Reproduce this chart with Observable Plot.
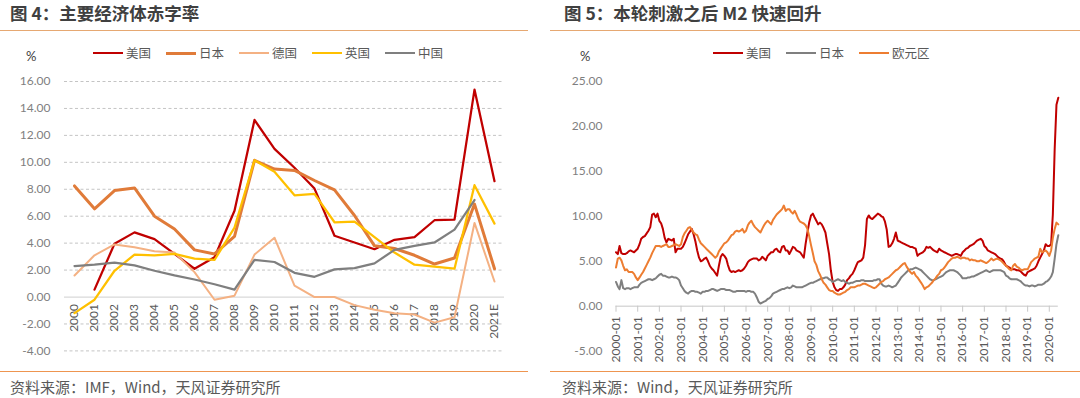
<!DOCTYPE html>
<html><head><meta charset="utf-8">
<script src="https://cdn.jsdelivr.net/npm/d3@7"></script>
<script src="https://cdn.jsdelivr.net/npm/@observablehq/plot@0.6"></script>
<style>
body{margin:0;width:1080px;height:398px;overflow:hidden;background:#fff;position:relative;font-family:Lato,"Noto Sans CJK SC",sans-serif}
.abs{position:absolute}
.title{font-family:"Noto Sans CJK SC",sans-serif;font-weight:bold;font-size:17.5px;line-height:20px;color:#404040;white-space:nowrap}
.toprule{height:0;border-top:1.5px solid #E6A872}
.botrule{height:0;border-top:1.5px solid #EE9550}
.src{font-family:"Noto Sans CJK SC",sans-serif;font-size:15px;line-height:20px;color:#595959;white-space:nowrap}
.legend{display:flex;align-items:center;font-family:"Noto Sans CJK SC",sans-serif;font-size:12.5px;line-height:16px;color:#595959;white-space:nowrap}
.legend .it{display:flex;align-items:center;margin-right:15px}
.legend .sw{width:30px;margin-right:3px}
.pct{font-size:13px;color:#404040;line-height:16px}
svg{overflow:visible}
</style></head><body>
<div class="abs title" style="left:10px;top:3px">图 4：主要经济体赤字率</div>
<div class="abs title" style="left:564px;top:3px">图 5：本轮刺激之后 M2 快速回升</div>
<div class="abs toprule" style="left:0;top:30px;width:528px"></div>
<div class="abs toprule" style="left:550px;top:30px;width:530px"></div>
<div class="abs pct" style="left:26px;top:48px">%</div>
<div class="abs pct" style="left:580px;top:48px">%</div>
<div id="legL" class="abs legend" style="left:93px;top:45px"></div>
<div id="legR" class="abs legend" style="left:713px;top:45px"></div>
<div id="plotL" class="abs" style="left:0;top:40px"></div>
<div id="plotR" class="abs" style="left:540px;top:40px"></div>
<div class="abs botrule" style="left:0;top:371px;width:528px"></div>
<div class="abs botrule" style="left:550px;top:371px;width:530px"></div>
<div class="abs src" style="left:10px;top:377px">资料来源：IMF，Wind，天风证券研究所</div>
<div class="abs src" style="left:562px;top:377px">资料来源：Wind，天风证券研究所</div>
<script>
// ---------- Figure 4: deficit ratios ----------
const years = ["2000","2001","2002","2003","2004","2005","2006","2007","2008","2009","2010",
  "2011","2012","2013","2014","2015","2016","2017","2018","2019","2020","2021E"];
const deficitUS = [null,0.55,3.95,4.8,4.3,3.2,2.1,2.95,6.4,13.15,11.0,9.6,8.05,4.55,4.05,3.55,4.25,4.45,5.7,5.75,15.4,8.6];
const deficitJP = [8.25,6.55,7.9,8.1,6.0,5.05,3.5,3.2,4.5,10.15,9.5,9.4,8.65,7.95,6.05,3.8,3.6,3.1,2.45,2.9,6.9,2.1];
const deficitDE = [1.6,3.1,3.9,3.7,3.4,3.3,1.85,-0.2,0.1,3.15,4.4,0.85,0.0,0.0,-0.6,-0.95,-1.2,-1.3,-1.9,-1.5,5.5,1.15];
const deficitUK = [-1.2,-0.2,1.95,3.15,3.1,3.2,2.85,2.75,5.15,10.15,9.3,7.55,7.65,5.55,5.6,4.45,3.3,2.4,2.25,2.1,8.3,5.45];
const deficitCN = [2.3,2.4,2.55,2.35,1.95,1.6,1.3,0.95,0.55,2.75,2.6,1.8,1.5,2.05,2.15,2.5,3.5,3.8,4.05,5.0,7.2,null];
const deficitNames = ["美国","日本","德国","英国","中国"];
const deficitColors = ["#C00000","#E07B39","#F4B183","#FFC000","#7F7F7F"];
const deficitWidths = [2.25,3,2,2.25,2.25];
const deficitTicks = [-4,-2,0,2,4,6,8,10,12,14,16];

// ---------- Figure 5: M2 YoY, monthly 2000-01 .. 2020-06 ----------
const m2Start = "2000-01-01", m2End = "2020-06-01";
const m2US = [
 6.0,5.8,6.7,5.9,5.8,5.8,5.9,6.1,6.2,6.1,6.0,6.2,
 6.4,6.9,7.5,7.7,7.8,8.1,8.4,8.8,10.2,10.3,9.9,10.3,
 9.5,9.2,8.6,7.6,7.1,7.5,7.4,7.3,7.5,6.0,6.4,6.4,
 6.4,6.6,7.0,7.5,8.0,8.3,8.6,8.0,7.2,6.2,5.4,5.0,
 5.1,5.3,5.4,5.0,4.5,4.2,4.0,3.7,3.4,4.5,5.5,5.8,
 5.6,5.3,4.6,4.0,3.8,3.9,3.8,3.9,4.0,3.9,4.0,4.2,
 4.5,4.9,5.1,5.2,5.3,5.3,5.3,5.1,5.2,5.5,5.3,5.1,
 5.6,5.8,6.0,6.0,6.3,6.4,6.1,6.0,6.6,6.7,6.2,6.2,
 5.8,6.2,6.6,6.5,6.2,6.1,6.0,5.7,5.4,6.9,8.2,9.3,
 10.1,10.3,9.9,9.5,9.1,9.3,9.1,8.7,8.2,7.0,5.8,4.0,
 2.7,2.1,1.8,1.7,1.9,1.9,2.1,2.4,2.9,3.1,3.4,3.6,
 4.0,4.5,4.9,5.0,5.1,5.4,6.8,9.7,10.1,9.8,9.7,9.9,
 10.1,10.3,10.2,10.0,9.9,9.4,8.5,6.6,6.7,7.0,7.5,8.2,
 7.3,7.2,7.1,7.0,6.9,6.8,6.7,6.6,6.6,6.5,6.4,5.6,
 5.8,5.9,6.0,6.2,6.6,6.5,6.6,6.4,6.2,6.1,6.0,6.4,
 6.2,6.1,6.0,5.9,5.8,5.7,5.6,5.7,5.8,5.8,5.7,5.6,
 6.0,6.2,6.4,6.5,6.7,6.8,6.9,7.1,7.3,7.4,7.5,7.3,
 6.7,6.5,6.2,6.1,6.0,5.9,5.8,5.6,5.4,5.3,5.2,4.9,
 4.5,4.4,4.3,4.1,4.1,4.1,4.0,4.0,3.9,3.7,3.5,3.4,
 3.8,3.9,4.0,4.1,4.2,4.5,5.0,5.4,5.8,6.2,6.9,6.7,
 6.7,6.9,10.2,17.5,22.4,23.2];
const m2JP = [
 2.7,2.2,1.9,2.9,2.0,1.9,2.0,2.0,1.9,2.0,2.1,2.1,
 2.1,2.4,2.6,2.7,2.8,2.9,3.0,3.0,2.9,3.0,3.1,3.3,
 3.5,3.6,3.4,3.4,3.3,3.2,3.2,3.3,3.2,3.2,3.1,2.9,
 2.3,2.0,1.7,1.5,1.4,1.6,1.7,1.7,1.6,1.6,1.5,1.4,
 1.6,1.6,1.7,1.7,1.8,1.9,1.9,1.8,1.7,1.8,1.9,1.9,
 1.9,1.8,1.8,1.8,1.7,1.6,1.6,1.7,1.7,1.7,1.7,1.7,
 1.6,1.7,1.7,1.6,1.6,1.4,1.0,0.5,0.3,0.4,0.5,0.6,
 0.8,0.9,1.1,1.4,1.5,1.6,1.7,1.8,1.9,1.9,2.0,2.1,
 2.0,2.1,2.3,2.2,2.1,2.1,2.1,2.1,2.2,2.3,2.4,2.5,
 2.6,2.6,2.7,2.8,2.9,3.0,3.1,3.1,3.2,3.2,3.0,2.9,
 2.7,2.8,2.9,3.0,2.9,2.8,2.9,2.7,2.6,2.5,2.6,2.6,
 2.7,2.8,2.8,2.8,2.9,2.9,2.8,2.8,2.8,2.8,2.8,2.9,
 2.9,3.0,3.0,2.5,2.3,2.2,2.2,2.3,2.2,2.1,2.2,2.3,
 2.6,2.9,3.2,3.4,3.6,3.8,4.0,4.1,4.1,4.2,4.3,4.2,
 4.1,4.0,3.8,3.6,3.4,3.2,3.0,2.9,2.9,3.0,3.1,3.2,
 3.3,3.4,3.6,3.8,3.9,4.0,4.0,4.0,3.9,3.8,3.6,3.4,
 3.1,3.1,3.1,3.2,3.2,3.3,3.3,3.4,3.5,3.6,3.7,3.8,
 3.9,4.0,3.9,3.8,3.9,4.0,4.0,4.0,4.0,4.0,3.9,3.8,
 3.4,3.3,3.1,3.0,3.0,3.0,3.0,2.9,2.8,2.6,2.4,2.3,
 2.3,2.2,2.3,2.3,2.2,2.3,2.4,2.4,2.4,2.5,2.7,2.8,
 3.0,3.3,3.8,5.3,6.9,7.9];
const m2EA = [
 4.3,5.3,5.4,5.1,4.5,4.0,4.1,3.8,3.8,3.8,3.6,3.2,
 2.9,3.2,3.5,3.8,4.2,4.6,5.0,5.4,5.9,6.3,6.7,6.7,
 6.7,6.6,6.7,6.8,6.9,6.6,6.6,6.7,6.8,6.9,6.8,6.7,
 6.9,7.7,8.1,8.4,8.7,8.8,8.5,8.2,8.0,7.9,7.4,7.0,
 6.8,6.6,6.4,6.2,6.0,5.8,5.6,5.4,5.6,6.1,6.4,6.7,
 7.0,7.1,7.3,7.6,7.9,8.0,8.3,8.4,8.3,8.4,8.6,8.2,
 8.4,9.0,9.3,9.5,9.1,8.8,8.6,8.4,8.2,8.6,9.0,9.3,
 9.5,9.3,9.1,9.6,9.9,10.2,10.4,10.6,10.8,11.2,10.6,10.8,
 10.8,10.5,10.3,10.6,10.2,9.7,9.4,9.3,9.2,9.0,8.6,7.8,
 6.8,5.9,5.0,4.6,3.9,3.5,3.0,2.6,2.4,2.1,1.8,1.7,
 1.7,1.5,1.4,1.3,1.3,1.4,1.5,1.6,1.8,1.9,2.1,2.1,
 2.1,2.2,2.3,2.3,2.4,2.5,2.5,2.4,2.3,2.2,2.1,2.0,
 2.1,2.3,2.5,2.7,2.8,3.0,3.1,3.2,3.4,3.6,3.8,4.0,
 4.1,4.3,4.5,4.7,4.8,4.4,4.1,3.8,3.6,3.8,3.4,3.2,
 2.9,2.6,2.3,1.9,2.1,2.2,2.4,2.6,2.9,3.1,3.4,3.6,
 4.0,4.1,4.3,4.6,4.9,5.1,5.3,5.4,5.4,5.5,5.4,5.3,
 5.4,5.4,5.3,5.3,5.1,5.2,5.1,5.1,5.0,5.0,5.1,5.0,
 4.9,4.8,4.9,5.1,5.3,5.1,5.2,5.3,5.2,5.1,4.9,4.7,
 4.5,4.3,4.1,4.0,4.5,4.7,4.4,4.3,4.1,4.0,4.1,4.1,
 4.1,4.5,4.9,5.1,5.3,5.4,5.5,6.4,6.0,6.1,6.2,6.0,
 5.6,6.2,7.6,8.6,9.3,9.1];
const m2Names = ["美国","日本","欧元区"];
const m2Colors = ["#C00000","#7F7F7F","#ED7D31"];
const m2Ticks = [-5,0,5,10,15,20,25];

const FONT = 'Lato, "Noto Sans CJK SC", sans-serif';

// legends
function legend(el, names, colors, widths) {
  names.forEach((n, i) => {
    const it = document.createElement("div"); it.className = "it";
    const sw = document.createElement("div"); sw.className = "sw";
    sw.style.height = widths[i] + "px"; sw.style.background = colors[i];
    const tx = document.createElement("span"); tx.textContent = n;
    it.append(sw, tx); el.append(it);
  });
}
legend(document.getElementById("legL"), deficitNames, deficitColors, [2,3,2,2,2]);
legend(document.getElementById("legR"), m2Names, m2Colors, [2,2,2]);

// left chart
const deficitSeries = [deficitUS, deficitJP, deficitDE, deficitUK, deficitCN];
const leftLines = deficitSeries.map((vals, k) =>
  Plot.line(years.map((y, i) => ({year: y, v: vals[i]})).filter(d => d.v != null),
    {x: "year", y: "v", stroke: deficitColors[k], strokeWidth: deficitWidths[k], strokeLinejoin: "round"}));
const left = Plot.plot({
  width: 520, height: 330, marginTop: 41, marginBottom: 19.6, marginLeft: 64, marginRight: 16,
  x: {type: "point", domain: years, padding: 0.5, axis: null},
  y: {domain: [-4, 16], axis: null},
  style: {fontFamily: FONT, background: "transparent", overflow: "visible"},
  marks: [
    Plot.ruleY(deficitTicks.filter(d => d !== 0), {stroke: "#C4C4C4", strokeDasharray: "3,2.5", strokeWidth: 1}),
    Plot.ruleY([0], {stroke: "#D9D9D9", strokeWidth: 1.25}),
    Plot.axisY({ticks: deficitTicks, tickFormat: d => d.toFixed(2), tickSize: 0, tickPadding: 14, fontSize: 12, fill: "#7F7F7F", label: null}),
    Plot.text(years, {x: d => d, y: () => 0, text: d => d, rotate: -90, textAnchor: "end", dy: 7, fontSize: 12, fill: "#595959"}),
    ...leftLines
  ]
});
document.getElementById("plotL").append(left);

// right chart
const months = d3.utcMonth.range(new Date(m2Start), d3.utcMonth.offset(new Date(m2End), 1));
const m2Rows = months.map((d, i) => ({date: d, us: m2US[i], jp: m2JP[i], ea: m2EA[i]}));
const yearTicks = d3.utcYear.range(new Date(m2Start), new Date(m2End));
const right = Plot.plot({
  width: 540, height: 330, marginTop: 41, marginBottom: 64.3, marginLeft: 75.5, marginRight: 22.2,
  x: {type: "utc", domain: [new Date(m2Start), new Date(m2End)], axis: null},
  y: {domain: [0, 25], axis: null},
  style: {fontFamily: FONT, background: "transparent", overflow: "visible"},
  marks: [
    Plot.ruleY([0], {stroke: "#D9D9D9", strokeWidth: 1.5}),
    Plot.axisX({ticks: yearTicks, tickSize: 6, tickPadding: 4, tickRotate: -90, tickFormat: d3.utcFormat("%Y-%m"),
      fontSize: 12, stroke: "#C8C8C8", fill: "#595959", label: null}),
    Plot.axisY({ticks: m2Ticks, tickFormat: d => d.toFixed(2), tickSize: 0, tickPadding: 13.5, fontSize: 12, fill: "#7F7F7F", label: null}),
    Plot.line(m2Rows, {x: "date", y: "us", stroke: m2Colors[0], strokeWidth: 2, strokeLinejoin: "round"}),
    Plot.line(m2Rows, {x: "date", y: "jp", stroke: m2Colors[1], strokeWidth: 2, strokeLinejoin: "round"}),
    Plot.line(m2Rows, {x: "date", y: "ea", stroke: m2Colors[2], strokeWidth: 2, strokeLinejoin: "round"})
  ]
});
document.getElementById("plotR").append(right);
</script>
</body></html>
